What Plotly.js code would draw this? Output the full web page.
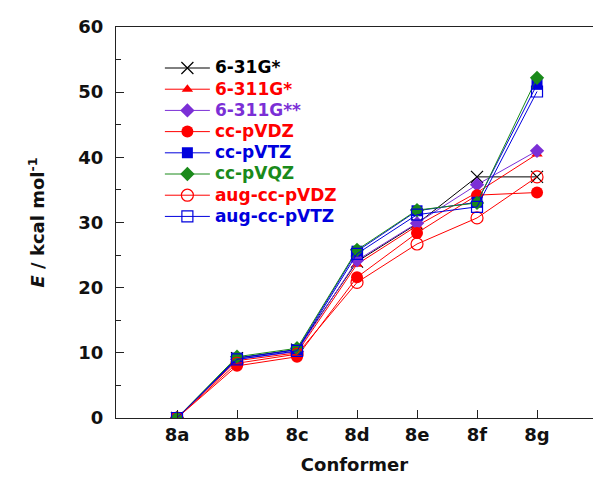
<!DOCTYPE html>
<html>
<head>
<meta charset="utf-8">
<script src="https://cdn.plot.ly/plotly-3.0.1.min.js"></script>
<style>html,body{margin:0;padding:0;background:#fff;}#chart{width:593px;height:486px;}</style>
</head>
<body>
<div id="chart"></div>
<script>
var conformers = ['8a','8b','8c','8d','8e','8f','8g'];
var basisSets = ['6-31G*','6-311G*','6-311G**','cc-pVDZ','cc-pVTZ','cc-pVQZ','aug-cc-pVDZ','aug-cc-pVTZ'];
var e631Gs    = [0, 9.2, 10.5, 24.0, 29.8, 37.0, 37.0];
var e6311Gs   = [0, 8.8, 10.0, 23.6, 29.5, 34.6, 40.5];
var e6311Gss  = [0, 9.0, 10.2, 24.2, 29.9, 35.8, 41.0];
var eccpVDZ   = [0, 8.0,  9.4, 21.6, 28.4, 34.2, 34.6];
var eccpVTZ   = [0, 9.2, 10.5, 25.6, 31.8, 33.1, 51.2];
var eccpVQZ   = [0, 9.4, 10.7, 25.8, 31.9, 33.0, 52.2];
var eaugVDZ   = [0, 8.4,  9.8, 20.8, 26.7, 30.7, 37.0];
var eaugVTZ   = [0, 9.0, 10.3, 25.2, 31.2, 32.4, 50.1];

var seriesValues = [e631Gs, e6311Gs, e6311Gss, eccpVDZ, eccpVTZ, eccpVQZ, eaugVDZ, eaugVTZ];
var colors  = ['#000000','#ff0000','#7b2fd6','#ff0000','#0000dd','#1a8a1a','#ff0000','#0000dd'];
var symbols = ['x-thin-open','triangle-up','diamond','circle','square','diamond','circle-open','square-open'];
var sizes   = [12, 10, 11, 12, 11, 11, 12, 11];

var FONT = 'DejaVu Sans, Liberation Sans, Arial, sans-serif';

var traces = basisSets.map(function(name, i){
  return {
    type: 'scatter', mode: 'lines+markers',
    x: conformers, y: seriesValues[i],
    name: '<span style="color:' + colors[i] + ';font-size:17px">' + name + '</span>',
    line: {color: colors[i], width: 1},
    marker: {symbol: symbols[i], size: sizes[i], color: colors[i],
             line: {color: colors[i], width: (symbols[i].indexOf('open') >= 0 ? 1.2 : 0)}}
  };
});

var layout = {
  width: 593, height: 486,
  margin: {l: 116, r: 0, t: 27, b: 68},
  paper_bgcolor: '#fff', plot_bgcolor: '#fff',
  showlegend: true,
  legend: {x: 0.092, y: 0.935, xanchor: 'left', yanchor: 'top', bgcolor: 'rgba(0,0,0,0)',
           itemwidth: 45,
           font: {family: FONT, size: 14, weight: 'bold', color: '#000'},
           tracegroupgap: 0},
  xaxis: {
    type: 'category', categoryorder: 'array', categoryarray: conformers,
    range: [-1.017, 6.933], showgrid: false, zeroline: false,
    showline: true, linecolor: '#222', linewidth: 1.2, mirror: true,
    ticks: 'inside', ticklen: 8, tickcolor: '#222',
    tickfont: {family: FONT, size: 18, weight: 'bold', color: '#111'},
    title: {text: 'Conformer', standoff: 14,
            font: {family: FONT, size: 18, weight: 'bold', color: '#111'}}
  },
  yaxis: {
    range: [0, 60], dtick: 10, showgrid: false, zeroline: false,
    showline: true, linecolor: '#222', linewidth: 1.2,
    ticks: 'inside', ticklen: 8, tickcolor: '#222',
    minor: {dtick: 5, ticks: 'inside', ticklen: 5, tickcolor: '#222'},
    ticklabelstandoff: 8,
    tickfont: {family: FONT, size: 18, weight: 'bold', color: '#111'},
    title: {text: '<i>E</i> / kcal mol<sup>-1</sup>', standoff: 28,
            font: {family: FONT, size: 18, weight: 'bold', color: '#111'}}
  }
};

Plotly.newPlot('chart', traces, layout, {displayModeBar: false, staticPlot: true});
</script>
</body>
</html>
